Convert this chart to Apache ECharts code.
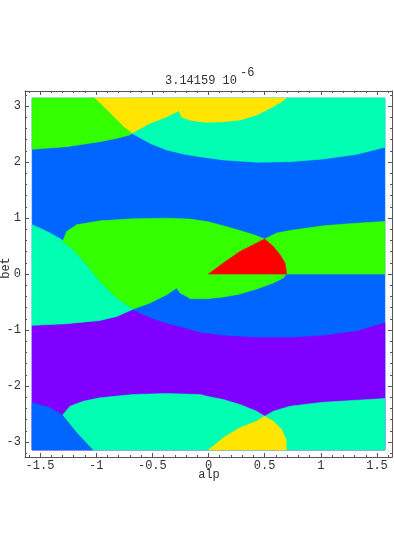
<!DOCTYPE html>
<html>
<head>
<meta charset="utf-8">
<script src="https://cdn.jsdelivr.net/npm/echarts@6/dist/echarts.min.js"></script>
<style>
  html, body { margin: 0; padding: 0; background: #fff; }
  #chart { width: 394px; height: 545px; }
</style>
</head>
<body>
<div id="chart"></div>
<script>
// region outlines [alp, bet]
var fullBlue = [[-1.5708, -3.1416], [1.5708, -3.1416], [1.5708, 3.1416], [-1.5708, 3.1416]];

var topCyan = [[-0.684, 2.513], [-0.684, 3.1416], [1.5708, 3.1416], [1.5708, 2.263], [1.320, 2.138],
  [1.022, 2.054], [0.726, 2.006], [0.429, 1.996], [0.132, 2.037], [-0.076, 2.095], [-0.224, 2.143],
  [-0.372, 2.215], [-0.521, 2.334]];

var topYellow = [[-1.017, 3.1416], [0.693, 3.1416], [0.652, 3.076], [0.548, 2.958], [0.429, 2.839],
  [0.280, 2.750], [0.132, 2.719], [-0.016, 2.709], [-0.076, 2.719], [-0.165, 2.750], [-0.239, 2.798],
  [-0.263, 2.915], [-0.372, 2.808], [-0.521, 2.691], [-0.684, 2.513], [-0.759, 2.630], [-0.848, 2.808],
  [-0.937, 2.987]];

var topGreen = [[-1.5708, 3.1416], [-1.017, 3.1416], [-0.937, 2.987], [-0.848, 2.808], [-0.759, 2.630],
  [-0.684, 2.513], [-0.699, 2.482], [-0.817, 2.423], [-0.966, 2.363], [-1.263, 2.274], [-1.5708, 2.227]];

var purple = [[-1.5708, -0.917], [-1.263, -0.887], [-0.966, -0.828], [-0.817, -0.757], [-0.670, -0.650],
  [-0.521, -0.785], [-0.372, -0.887], [-0.224, -0.963], [-0.076, -1.047], [0.132, -1.101], [0.429, -1.136],
  [0.726, -1.136], [1.022, -1.101], [1.320, -1.024], [1.5708, -0.874], [1.5708, -3.1416], [-1.5708, -3.1416]];

var bottomCyan = [[-1.30, -2.52], [-1.233, -2.361], [-1.115, -2.272], [-0.966, -2.211], [-0.670, -2.152],
  [-0.372, -2.135], [-0.076, -2.152], [-0.016, -2.183], [0.132, -2.242], [0.280, -2.331], [0.429, -2.450],
  [0.5, -2.539], [0.577, -2.450], [0.726, -2.361], [1.022, -2.290], [1.320, -2.254], [1.5708, -2.224],
  [1.5708, -3.1416], [-1.031, -3.1416], [-1.174, -2.835]];

var bottomBlue = [[-1.5708, -2.300], [-1.411, -2.389], [-1.30, -2.52], [-1.174, -2.835], [-1.031, -3.1416],
  [-1.5708, -3.1416]];

var bottomYellow = [[0, -3.1416], [0.132, -2.924], [0.280, -2.746], [0.429, -2.628], [0.5, -2.539],
  [0.577, -2.628], [0.652, -2.776], [0.690, -2.955], [0.693, -3.1416]];

var midCyan = [[-1.5708, 0.878], [-1.500, 0.819], [-1.411, 0.730], [-1.307, 0.611], [-1.204, 0.432],
  [-1.085, 0.165], [-0.966, -0.133], [-0.817, -0.429], [-0.670, -0.625], [-0.817, -0.757], [-0.966, -0.828],
  [-1.263, -0.887], [-1.5708, -0.917]];

var midGreen = [[-1.298, 0.580], [-1.263, 0.758], [-1.174, 0.878], [-0.966, 0.949], [-0.670, 0.985],
  [-0.372, 0.997], [-0.165, 0.980], [-0.016, 0.937], [0.132, 0.860], [0.280, 0.776], [0.429, 0.682],
  [0.5, 0.623], [0.607, 0.730], [0.726, 0.776], [1.022, 0.860], [1.320, 0.908], [1.5708, 0.937],
  [1.5708, 0], [0.693, 0], [0.666, -0.072], [0.577, -0.161], [0.429, -0.268], [0.280, -0.357],
  [0.132, -0.411], [-0.016, -0.441], [-0.165, -0.441], [-0.194, -0.400], [-0.254, -0.340],
  [-0.283, -0.250], [-0.372, -0.370], [-0.521, -0.518], [-0.670, -0.625], [-0.817, -0.429],
  [-0.966, -0.133], [-1.085, 0.165], [-1.204, 0.432]];

var red = [[0, 0], [0.132, 0.195], [0.280, 0.402], [0.429, 0.552], [0.5, 0.623], [0.577, 0.491],
  [0.637, 0.343], [0.681, 0.195], [0.693, 0.045], [0.693, 0]];

var xMajor = [-1.5, -1, -0.5, 0, 0.5, 1, 1.5];
var yMajor = [-3, -2, -1, 0, 1, 2, 3];

var xMinor = [];
for (var i = -16; i <= 16; i++) { if (i % 5 !== 0) xMinor.push(i / 10); }
var yMinor = [];
for (var j = -16; j <= 16; j++) { if (j % 5 !== 0) yMinor.push(j / 5); }

var FONT = "'Liberation Mono', 'DejaVu Sans Mono', monospace";
var AXIS = '#555';

function region(points, color) {
  return {
    type: 'custom',
    silent: true,
    animation: false,
    data: points,
    encode: { x: 0, y: 1 },
    renderItem: function (params, api) {
      if (params.context.rendered) return;
      params.context.rendered = true;
      var pts = points.map(function (p) { return api.coord(p); });
      return {
        type: 'polygon',
        shape: { points: pts },
        style: { fill: color, stroke: color, lineWidth: 0.6 }
      };
    }
  };
}

function frameAxis(dim, pos, ticks, len, main, extra) {
  var lim = dim === 'x' ? 1.6336 : 3.2673;
  var a = {
    type: 'value',
    position: pos,
    min: -lim,
    max: lim,
    splitLine: { show: false },
    axisLine: { show: main, onZero: false, lineStyle: { color: AXIS, width: 1 } },
    axisTick: { show: true, inside: true, length: len, customValues: ticks, lineStyle: { color: AXIS } },
    axisLabel: { show: false }
  };
  return Object.assign(a, extra || {});
}

var chart = echarts.init(document.getElementById('chart'));
chart.setOption({
  animation: false,
  grid: { left: 25, right: 2, top: 91, bottom: 88 },
  xAxis: [
    frameAxis('x', 'bottom', xMajor, 4, true, {
      axisLabel: { show: true, customValues: xMajor, margin: 3, fontFamily: FONT, fontSize: 12, color: '#333' }
    }),
    frameAxis('x', 'bottom', xMinor, 2, false),
    frameAxis('x', 'top', xMajor, 4, true),
    frameAxis('x', 'top', xMinor, 2, false)
  ],
  yAxis: [
    frameAxis('y', 'left', yMajor, 4, true, {
      axisLabel: { show: true, customValues: yMajor, margin: 4, fontFamily: FONT, fontSize: 12, color: '#333' }
    }),
    frameAxis('y', 'left', yMinor, 2, false),
    frameAxis('y', 'right', yMajor, 4, true),
    frameAxis('y', 'right', yMinor, 2, false)
  ],
  graphic: [
    { type: 'text', left: 165, top: 75, style: { text: '3.14159 10', font: '12px ' + FONT, fill: '#333' } },
    { type: 'text', left: 240, top: 67, style: { text: '-6', font: '12px ' + FONT, fill: '#333' } },
    { type: 'text', x: 209, y: 475, style: { text: 'alp', font: '12px ' + FONT, fill: '#333', align: 'center', verticalAlign: 'middle' } },
    { type: 'text', x: 6, y: 268, rotation: Math.PI / 2, style: { text: 'bet', font: '12px ' + FONT, fill: '#333', align: 'center', verticalAlign: 'middle' } }
  ],
  series: [
    region(fullBlue, '#0066ff'),
    region(topCyan, '#00ffb3'),
    region(topYellow, '#ffe500'),
    region(topGreen, '#33ff00'),
    region(purple, '#8000ff'),
    region(bottomCyan, '#00ffb3'),
    region(bottomBlue, '#0066ff'),
    region(bottomYellow, '#ffe500'),
    region(midCyan, '#00ffb3'),
    region(midGreen, '#33ff00'),
    region(red, '#ff0000')
  ]
});
</script>
</body>
</html>
